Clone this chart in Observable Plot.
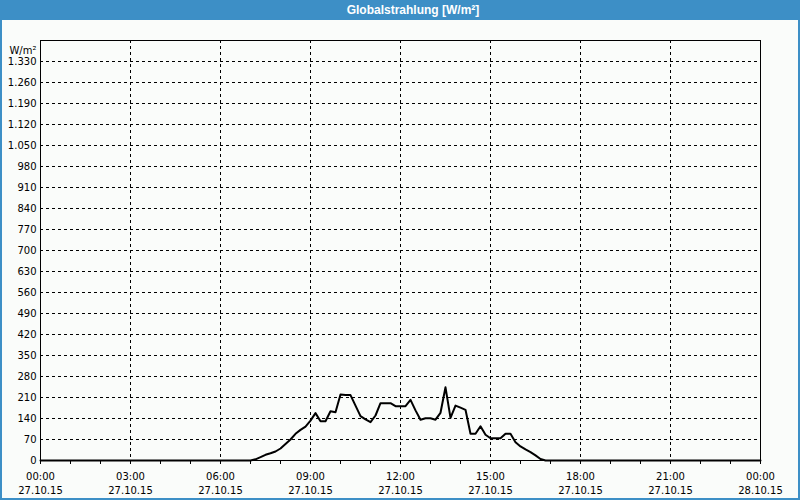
<!DOCTYPE html>
<html><head><meta charset="utf-8">
<script src="https://cdn.jsdelivr.net/npm/d3@7"></script>
<script src="https://cdn.jsdelivr.net/npm/@observablehq/plot@0.6"></script>
<style>
html,body{margin:0;padding:0;background:#fafcfa;}
#wrap{position:relative;width:800px;height:500px;overflow:hidden;background:#fafcfa;font-family:"Liberation Sans",Arial,sans-serif;}
#title{height:20px;background:#3d8fc6;color:#fff;font-weight:bold;font-size:12px;line-height:20px;text-align:center;padding-left:26px;box-sizing:border-box;}
#chart{height:480px;}
#border{position:absolute;left:0;top:0;width:800px;height:500px;box-sizing:border-box;border:2px solid #3d8fc6;border-top:none;pointer-events:none;}
</style></head>
<body>
<div id="wrap"><div id="title">Globalstrahlung [W/m²]</div><div id="chart"></div><div id="border"></div></div>
<script>
const times = ["00:00",
 "07:00","07:10","07:20","07:30","07:40","07:50",
 "08:00","08:10","08:20","08:30","08:40","08:50",
 "09:00","09:10","09:20","09:30","09:40","09:50",
 "10:00","10:10","10:20","10:30","10:40","10:50",
 "11:00","11:10","11:20","11:30","11:40","11:50",
 "12:00","12:10","12:20","12:30","12:40","12:50",
 "13:00","13:10","13:20","13:30","13:40","13:50",
 "14:00","14:10","14:20","14:30","14:40","14:50",
 "15:00","15:10","15:20","15:30","15:40","15:50",
 "16:00","16:10","16:20","16:30","16:40","16:50",
 "24:00"];
const values = [0,
 0,4,11,19,24,30,
 40,55,70,89,102,113,
 133,158,131,131,164,161,
 220,218,218,183,148,137,
 128,150,191,191,191,181,
 181,181,202,167,136,141,
 141,136,159,244,142,183,
 176,169,89,89,114,86,
 74,74,74,89,89,61,
 47,37,28,17,5,0,
 0];
const yTicks = [0,70,140,210,280,350,420,490,560,630,700,770,840,910,980,1050,1120,1190,1260,1330];
const xMajorTicks = ["00:00","03:00","06:00","09:00","12:00","15:00","18:00","21:00","24:00"];
const xMinorTicks = ["00:00","01:00","02:00","03:00","04:00","05:00","06:00","07:00","08:00","09:00","10:00","11:00","12:00","13:00","14:00","15:00","16:00","17:00","18:00","19:00","20:00","21:00","22:00","23:00","24:00"];
const unitLabel = ["W/m²"];
const dayStart = Date.UTC(2015, 9, 27);
const yMax = 1400;

const toDate = s => { const [h, m] = s.split(":").map(Number); return new Date(dayStart + (h * 60 + m) * 60000); };
const data = times.map((t, i) => ({t: toDate(t), v: values[i]}));
const major = xMajorTicks.map(toDate);
const minor = xMinorTicks.map(toDate);

const de = d3.formatLocale({decimal: ",", thousands: ".", grouping: [3], currency: ["", " €"]});
const yFmt = de.format(",d");
const xFmt = d => d3.utcFormat("%H:%M")(d) + "\n" + d3.utcFormat("%d.%m.%y")(d);

const dash = {stroke: "#000", strokeOpacity: 1, strokeDasharray: "3,3", strokeWidth: 1};

const chart = Plot.plot({
  width: 800,
  height: 480,
  marginTop: 20,
  marginBottom: 40,
  marginLeft: 40,
  marginRight: 40,
  style: {background: "transparent", fontFamily: "DejaVu Sans, Verdana, sans-serif", fontSize: "10px", color: "#000"},
  x: {type: "utc", domain: [toDate("00:00"), toDate("24:00")]},
  y: {domain: [0, yMax]},
  marks: [
    Plot.gridY(yTicks.slice(1), dash),
    Plot.gridX(major.slice(1, -1), dash),
    Plot.axisY(yTicks, {tickSize: 0, tickPadding: 4, tickFormat: yFmt, label: null}),
    Plot.axisX(minor, {tickSize: 4, tickFormat: () => "", label: null}),
    Plot.axisX(major, {tickSize: 4, tickPadding: 6, tickFormat: xFmt, label: null, lineHeight: 1.4}),
    Plot.frame({stroke: "#000"}),
    Plot.line(data, {x: "t", y: "v", stroke: "#000", strokeWidth: 2}),
    Plot.text(unitLabel, {frameAnchor: "top-left", dx: -4, dy: 6, textAnchor: "end", fill: "#000"})
  ]
});
document.getElementById("chart").appendChild(chart);
</script>
</body></html>
